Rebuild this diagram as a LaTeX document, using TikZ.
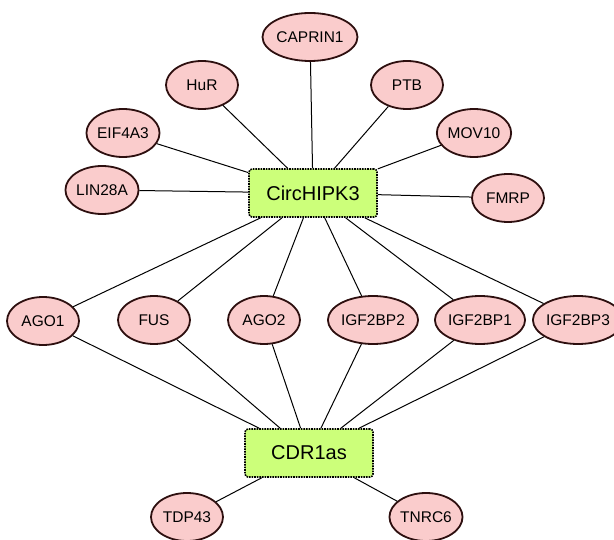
\documentclass[tikz,border=0pt]{standalone}
\usepackage{fontspec}
\setmainfont{Liberation Sans}
\usepackage{xcolor}
\usepackage{tikz}
\usetikzlibrary{shapes.geometric}
\usetikzlibrary{calc}

\definecolor{protpink}{RGB}{250,204,204}
\definecolor{protedge}{RGB}{45,15,15}
\definecolor{circgreen}{RGB}{204,255,122}

\begin{document}
\begin{tikzpicture}[x = 1pt, y = -1pt]
		\useasboundingbox (0, 0) rectangle (614, 540);
		
		\begin{scope}[every node/.style={ellipse, draw = protedge, line width = 1.8pt, fill = protpink, minimum width = 72pt, minimum height = 48pt, inner sep = 0pt, font = \fontsize{15.5}{18}\selectfont}]
		\node (caprin) at (310, 37) {CAPRIN1};
		\node (hur) at (202, 85) {HuR};
		\node (ptb) at (407, 85) {PTB};
		\node (eif) at (123, 133) {EIF4A3};
		\node (mov) at (474, 133) {MOV10};
		\node (lin) at (102, 190) {LIN28A};
		\node (fmrp) at (508, 198) {FMRP};
		\node (ago1) at (43, 321) {AGO1};
		\node (fus) at (154, 320) {FUS};
		\node (ago2) at (264, 320) {AGO2};
		\node (igf2) at (373, 320) {IGF2BP2};
		\node (igf1) at (480, 320) {IGF2BP1};
		\node (igf3) at (578, 320) {IGF2BP3};
		\node (tdp) at (187, 517) {TDP43};
		\node (tnrc) at (426, 517) {TNRC6};
		;
		\end{scope}
		
		\begin{scope}[every node/.style={rectangle, rounded corners = 3pt, draw, densely dotted, line width = 1.6pt, fill = circgreen, minimum width = 128pt, minimum height = 48pt, font = \fontsize{20}{24}\selectfont}]
		\node (hipk) at (313, 193) {CircHIPK3};
		\node (cdr) at (309, 453) {CDR1as};
		\end{scope}
		
		\begin{scope}[every edge/.style = {draw = black, line width = 1pt}]
		\path (hipk) edge (caprin)
		(hipk) edge (hur)
		(hipk) edge (ptb)
		(hipk) edge (eif)
		(hipk) edge (mov)
		(hipk) edge (lin)
		(hipk) edge (fmrp)
		(hipk) edge (ago1)
		(hipk) edge (fus)
		(hipk) edge (ago2)
		(hipk) edge (igf2)
		(hipk) edge (igf1)
		(hipk) edge (igf3);
		
		\path (cdr) edge (ago1)
		(cdr) edge (fus)
		(cdr) edge (ago2)
		(cdr) edge (igf2)
		(cdr) edge (igf1)
		(cdr) edge (igf3)
		(cdr) edge (tdp)
		(cdr) edge (tnrc);
		\end{scope}
		
		\end{tikzpicture}
\end{document}
